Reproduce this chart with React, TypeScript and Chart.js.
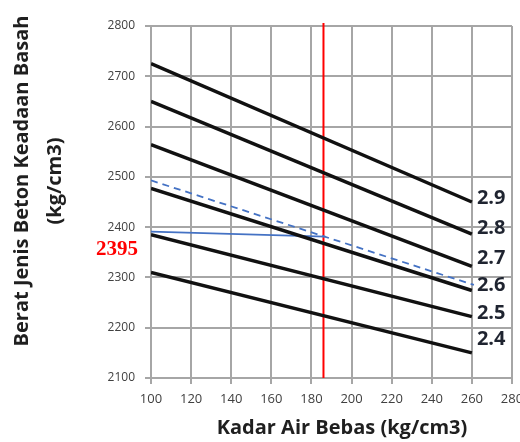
import React, { useEffect, useRef } from "react";
import { Chart, registerables } from "chart.js";

Chart.register(...registerables);

// Data
const xStart = 100;
const xEnd = 260;
const lineNames = ["2.9", "2.8", "2.7", "2.6", "2.5", "2.4"];
const lineStartValues = [2725, 2650, 2564, 2477, 2385, 2310];
const lineEndValues = [2450, 2386, 2322, 2274, 2222, 2150];
const lineLabelValues = [2458, 2398, 2339, 2285, 2229, 2176];
const dashedLine = [
  { x: 100, y: 2493 },
  { x: 261, y: 2285 },
];
const blueLine = [
  { x: 100, y: 2391 },
  { x: 187, y: 2381 },
];
const redX = 186;
const redLine = [
  { x: redX, y: 2100 },
  { x: redX, y: 2806 },
];
const markedValueText = "2395";
const markedValueLabelY = 2356;
const xMin = 100;
const xMax = 280;
const xStep = 20;
const yMin = 2100;
const yMax = 2800;
const yStep = 100;
const yTitleLines = ["Berat Jenis Beton Keadaan Basah", "(kg/cm3)"];
const xTitle = "Kadar Air Bebas (kg/cm3)";

const textPlugin = {
  id: "textPlugin",
  afterDraw(chart: any) {
    const ctx = chart.ctx;
    const xs = chart.scales.x;
    const ys = chart.scales.y;
    const area = chart.chartArea;
    ctx.save();
    // line labels
    ctx.font = "bold 20px 'Open Sans'";
    ctx.fillStyle = "#1f2430";
    ctx.textAlign = "left";
    ctx.textBaseline = "middle";
    lineNames.forEach((n, i) => {
      ctx.fillText(n, xs.getPixelForValue(xEnd) + 5, ys.getPixelForValue(lineLabelValues[i]));
    });
    // marked value
    ctx.font = "bold 21px 'Liberation Serif'";
    ctx.fillStyle = "#ff0000";
    ctx.textAlign = "right";
    ctx.fillText(markedValueText, area.left - 13, ys.getPixelForValue(markedValueLabelY));
    // x title
    ctx.font = "bold 20px 'Open Sans'";
    ctx.fillStyle = "#1f1f1f";
    ctx.textAlign = "center";
    ctx.fillText(xTitle, 342, 428);
    // y title
    ctx.translate(0, 181);
    ctx.rotate(-Math.PI / 2);
    ctx.fillText(yTitleLines[0], 0, 22);
    ctx.fillText(yTitleLines[1], 0, 55);
    ctx.restore();
  },
};

export default function App() {
  const ref = useRef<HTMLCanvasElement>(null);
  useEffect(() => {
    if (!ref.current) return;
    const blackSets = lineNames.map((n, i) => ({
      label: n,
      data: [
        { x: xStart, y: lineStartValues[i] },
        { x: xEnd, y: lineEndValues[i] },
      ],
      borderColor: "#111111",
      borderWidth: 3.5,
      pointRadius: 0,
      showLine: true,
    }));
    const chart = new Chart(ref.current, {
      type: "scatter",
      data: {
        datasets: [
          ...blackSets,
          {
            label: "dashed",
            data: dashedLine,
            borderColor: "#4472c4",
            borderWidth: 1.8,
            borderDash: [7, 5],
            pointRadius: 0,
            showLine: true,
          },
          {
            label: "blue",
            data: blueLine,
            borderColor: "#4472c4",
            borderWidth: 1.8,
            pointRadius: 0,
            showLine: true,
          },
          {
            label: "red",
            data: redLine,
            borderColor: "#ff0000",
            borderWidth: 2,
            pointRadius: 0,
            showLine: true,
            clip: false,
          } as any,
        ],
      },
      options: {
        animation: false,
        responsive: true,
        maintainAspectRatio: false,
        layout: { padding: { top: 26, right: 8, left: 0, bottom: 0 } },
        plugins: { legend: { display: false }, tooltip: { enabled: false }, title: { display: false } },
        scales: {
          x: {
            type: "linear",
            min: xMin,
            max: xMax,
            ticks: {
              stepSize: xStep,
              padding: 7,
              color: "#404040",
              font: { family: "'Open Sans'", size: 13 },
              maxRotation: 0,
              callback: (v: any) => String(v),
            },
            grid: { color: "#a6a6a6", lineWidth: 2, tickLength: 6 },
            border: { color: "#a6a6a6", width: 2 },
            afterFit: (s: any) => {
              s.height = 64;
              s.paddingLeft = 0;
              s.paddingRight = 0;
            },
          },
          y: {
            type: "linear",
            min: yMin,
            max: yMax,
            ticks: {
              stepSize: yStep,
              padding: 10,
              color: "#404040",
              font: { family: "'Open Sans'", size: 12 },
              callback: (v: any) => String(v),
            },
            grid: { color: "#a6a6a6", lineWidth: 2, tickLength: 6 },
            border: { color: "#a6a6a6", width: 2 },
            afterFit: (s: any) => {
              s.width = 151;
              s.paddingTop = 0;
              s.paddingBottom = 0;
            },
          },
        },
      },
      plugins: [textPlugin],
    });
    return () => chart.destroy();
  }, []);
  return (
    <div style={{ position: "fixed", left: 0, top: 0, width: 520, height: 442, background: "#fff" }}>
      <canvas ref={ref} />
    </div>
  );
}
